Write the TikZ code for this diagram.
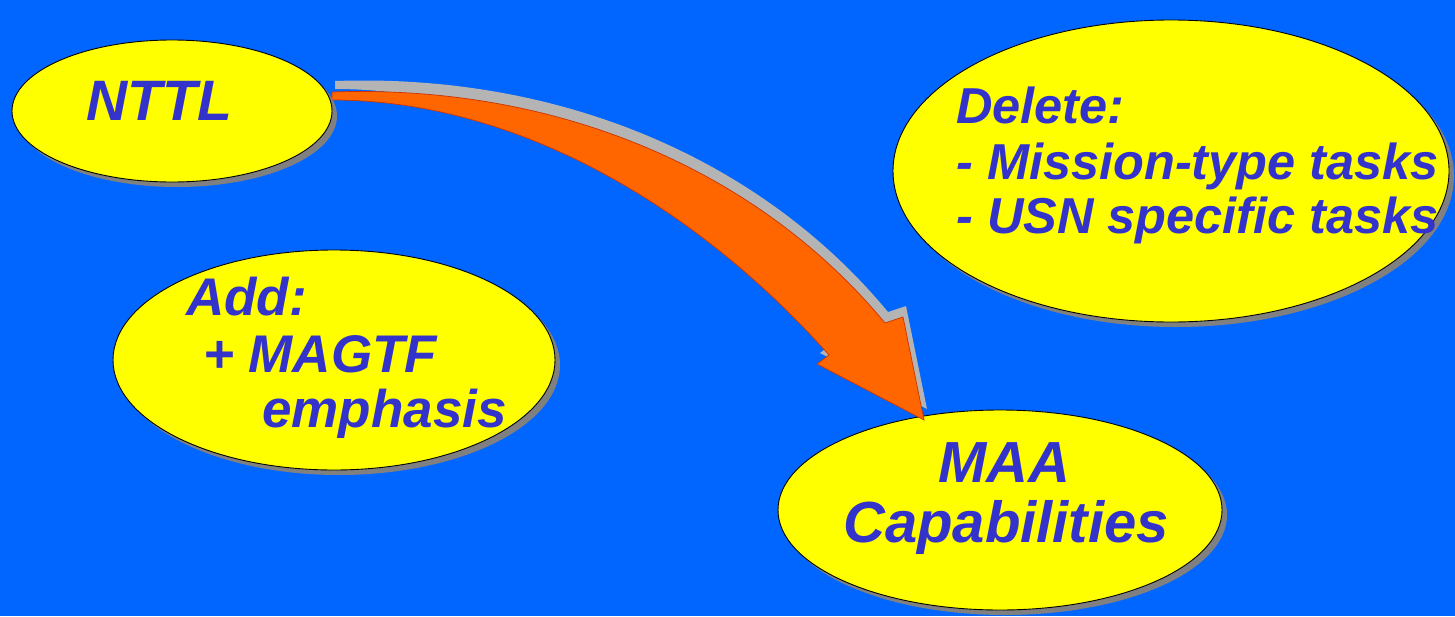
\documentclass[tikz,border=0pt]{standalone}
\usepackage{fontspec}
\setmainfont{Liberation Sans}
\usetikzlibrary{shapes.geometric,shadows}
\definecolor{bg}{HTML}{0066FF}
\definecolor{blobfill}{HTML}{FFFF00}
\definecolor{txt}{HTML}{3333CC}
\definecolor{shade}{HTML}{808080}
\definecolor{arrowfill}{HTML}{FF6600}
\definecolor{arrowedge}{HTML}{CC3300}
\definecolor{arrowshade}{HTML}{B4B4B4}
\tikzset{
  blob/.style={ellipse, draw=black, line width=0.9pt, fill=blobfill, inner sep=0pt,
    drop shadow={shadow xshift=5pt, shadow yshift=-5pt, fill=shade, opacity=1}},
  lbl/.style={anchor=base west, inner sep=0pt, text=txt, font=\bfseries\itshape},
}
\begin{document}
\begin{tikzpicture}[x=1pt,y=-1pt]
\useasboundingbox (0,0) rectangle (1455,616);
\fill[bg] (0,0) rectangle (1455,616);

% ellipses
\node[blob, minimum width=442pt, minimum height=220pt] (add) at (334,360) {};
\node[blob, minimum width=556pt, minimum height=302pt] (del) at (1171,171) {};
\node[blob, minimum width=444pt, minimum height=200pt] (maa) at (1000,510) {};

% arrow NTTL -> MAA
\def\arrowpath{(332,92) .. controls (560,84) and (760,172) .. (885,323)
  -- (903,317) -- (924,420) -- (817,364) -- (829,355)
  .. controls (700,210) and (520,100) .. (332,100) -- cycle}
\fill[arrowshade, shift={(3pt,11pt)}] \arrowpath;
\filldraw[fill=arrowfill, draw=arrowedge, line width=0.7pt, line join=miter] \arrowpath;

\node[blob, minimum width=320pt, minimum height=142pt] (nttl) at (172,111) {};

% texts
\node[lbl, font=\fontsize{57}{60}\selectfont\bfseries\itshape] (tnttl) at (86,120) {NTTL};

\node[lbl, font=\fontsize{53}{56}\selectfont\bfseries\itshape] (tadd1) at (186,315) {Add:};
\node[lbl, font=\fontsize{53}{56}\selectfont\bfseries\itshape] (tadd2) at (203,372) {+ MAGTF};
\node[lbl, font=\fontsize{53}{56}\selectfont\bfseries\itshape] (tadd3) at (262,427) {emphasis};

\node[lbl, font=\fontsize{50.5}{54}\selectfont\bfseries\itshape] (tdel1) at (956,123) {Delete:};
\node[lbl, font=\fontsize{50.5}{54}\selectfont\bfseries\itshape] (tdel2) at (956,179) {- Mission-type tasks};
\node[lbl, font=\fontsize{50.5}{54}\selectfont\bfseries\itshape] (tdel3) at (956,233) {- USN specific tasks};

\node[lbl, font=\fontsize{58}{60}\selectfont\bfseries\itshape] (tmaa1) at (938,482) {MAA};
\node[lbl, font=\fontsize{58}{60}\selectfont\bfseries\itshape] (tmaa2) at (843,542) {Capabilities};
\end{tikzpicture}
\end{document}
